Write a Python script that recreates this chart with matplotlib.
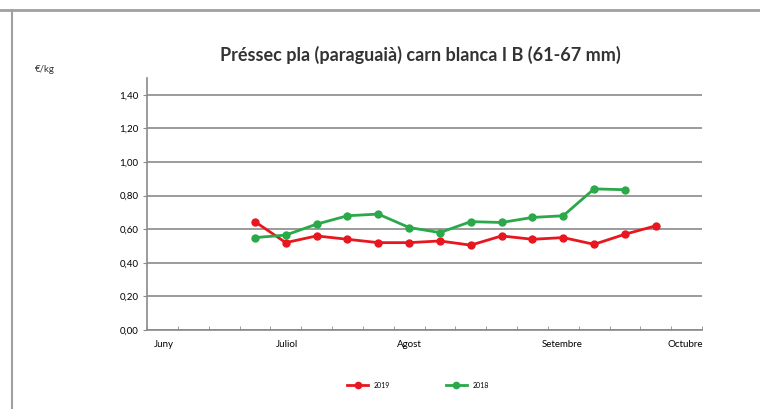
import matplotlib.pyplot as plt
from matplotlib.lines import Line2D

# week positions (0 = start of June), one tick per week
weeks_a = [3.5, 4.5, 5.5, 6.5, 7.5, 8.5, 9.5, 10.5, 11.5, 12.5, 13.5, 14.5, 15.5, 16.5]
weeks_b = [3.5, 4.5, 5.5, 6.5, 7.5, 8.5, 9.5, 10.5, 11.5, 12.5, 13.5, 14.5, 15.5]

price_2019 = [0.645, 0.52, 0.56, 0.54, 0.52, 0.52, 0.53, 0.505, 0.56, 0.54, 0.55,
              0.51, 0.57, 0.62]
price_2018 = [0.55, 0.565, 0.63, 0.68, 0.69, 0.61, 0.58, 0.645, 0.64, 0.67, 0.68,
              0.84, 0.835]

month_pos = [0.55, 4.55, 8.5, 13.45, 17.45]
month_labels = ["Juny", "Juliol", "Agost", "Setembre", "Octubre"]
y_ticks = [0.0, 0.2, 0.4, 0.6, 0.8, 1.0, 1.2, 1.4]

plt.rcParams['font.family'] = ['Lato', 'DejaVu Sans']

fig = plt.figure(figsize=(7.6, 4.09), dpi=100)
ax = fig.add_axes([147 / 760, 1 - 330 / 409, 555 / 760, 252 / 409])

# frame lines of the chart box (only top and left show)
fig.lines.append(Line2D([0, 1], [1 - 10 / 409, 1 - 10 / 409],
                        transform=fig.transFigure, color="#a0a0a0", linewidth=2))
fig.lines.append(Line2D([12 / 760, 12 / 760], [0, 1 - 10 / 409],
                        transform=fig.transFigure, color="#a0a0a0", linewidth=1.5))

ax.plot(weeks_a, price_2019, color="#e8161e", marker="o", markersize=5,
        linewidth=2, label="2019")
ax.plot(weeks_b, price_2018, color="#2aa84a", marker="o", markersize=5,
        linewidth=2, label="2018")

ax.set_xlim(0, 18)
ax.set_ylim(0, 1.5)
ax.set_yticks(y_ticks)
ax.set_yticklabels([f"{v:.2f}".replace(".", ",") for v in y_ticks], fontsize=7)
ax.yaxis.grid(True, color="#8a8a8a", linewidth=1.2)
ax.set_axisbelow(True)

ax.set_xticks(month_pos)
ax.set_xticklabels(month_labels, fontsize=7)
ax.set_xticks(range(0, 19), minor=True)
ax.tick_params(axis="x", which="major", length=0, pad=7)
ax.tick_params(axis="x", which="minor", length=3, direction="in", color="#8a8a8a")
ax.tick_params(axis="y", length=3, color="#8a8a8a", pad=3)

for side in ["top", "right"]:
    ax.spines[side].set_visible(False)
ax.spines["left"].set_color("#8a8a8a")
ax.spines["bottom"].set_color("#8a8a8a")
ax.spines["left"].set_linewidth(1.2)
ax.spines["bottom"].set_linewidth(1.2)

fig.text(420 / 760, 1 - 55 / 409, "Préssec pla (paraguaià) carn blanca I B (61-67 mm)",
         ha="center", va="center", fontsize=13, fontweight="bold", color="#333333")
fig.text(35 / 760, 1 - 70 / 409, "€/kg", ha="left", va="center", fontsize=7,
         color="#333333")

fig.legend(loc="center", bbox_to_anchor=(418 / 760, 1 - 385 / 409), ncol=2,
           frameon=False, fontsize=5, handlelength=3, columnspacing=8,
           markerscale=0.9)

fig.savefig("out.png", dpi=100)
